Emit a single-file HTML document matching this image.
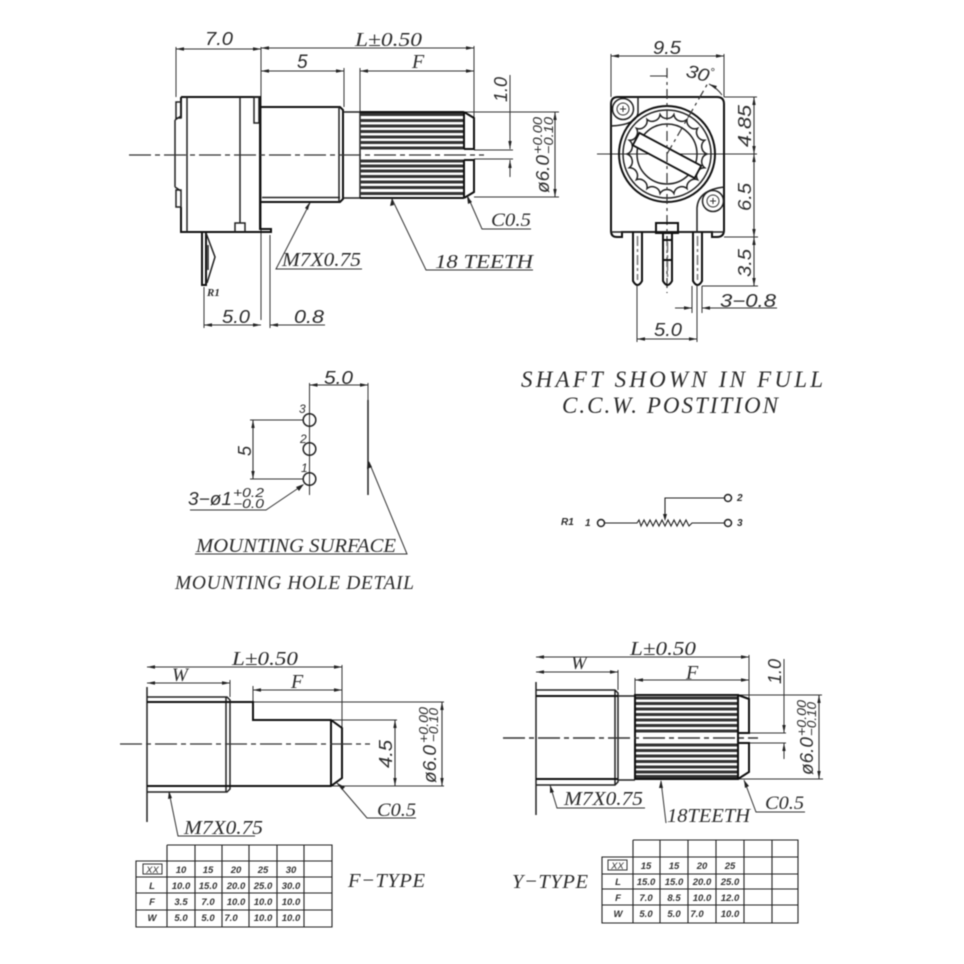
<!DOCTYPE html>
<html><head><meta charset="utf-8"><style>
html,body{margin:0;padding:0;background:#fff}
svg{display:block;filter:blur(.5px)}
.t{stroke:#333;stroke-width:1;fill:none}
.m{stroke:#222;stroke-width:1.5;fill:none}
.k{stroke:#111;stroke-width:2;fill:none}
.d{stroke:#333;stroke-width:1.2;fill:none;stroke-dasharray:22 4 5 4}
.da{stroke:#333;stroke-width:1.100;fill:none;marker-start:url(#a);marker-end:url(#a)}
.s{font-family:"Liberation Sans",sans-serif;font-style:italic;fill:#2c2c2c}
.r{font-family:"Liberation Serif",serif;font-style:italic;fill:#2c2c2c}
.b{font-family:"Liberation Sans",sans-serif;font-style:italic;font-weight:bold;fill:#333;font-size:9.500px;text-anchor:middle}
</style></head><body>
<svg width="964" height="964" viewBox="0 0 964 964" xmlns="http://www.w3.org/2000/svg">
<defs>
<marker id="a" markerUnits="userSpaceOnUse" markerWidth="10" markerHeight="6" refX="8" refY="3" orient="auto-start-reverse"><path d="M0 1.300L8 3L0 4.700z" fill="#222"/></marker>
</defs>
<rect width="964" height="964" fill="#fff"/>

<!-- TOP LEFT SIDE VIEW -->
<path class="t" d="M176 47V97M261 47V320M344 68V107M360 68V112M474 46V118M270 235V328M204 287V328M463 112H559M474 197H559M474 150H513M474 159H513"/>
<line class="da" x1="176" y1="49" x2="261" y2="49"/>
<line class="da" x1="261" y1="48" x2="474" y2="48"/>
<line class="da" x1="261" y1="71" x2="344" y2="71"/>
<line class="da" x1="360" y1="71" x2="474" y2="71"/>
<line class="da" x1="555" y1="112" x2="555" y2="197"/>
<path class="t" d="M510 75V149" marker-end="url(#a)"/>
<path class="t" d="M510 177V160" marker-end="url(#a)"/>
<line class="da" x1="204" y1="325" x2="261" y2="325"/>
<path class="t" d="M325 325H270" marker-end="url(#a)"/>
<path class="k" d="M181 97H260V229H271V232H181V207M181 97V118M260 107H340L343 110V199L340 202H260"/>
<path class="m" d="M175 120V187M175 120L181 116M175 187L181 191M176 102H181V118H176ZM176 190H181V207H176ZM254 97H259V123H254ZM187 97V232M240 97V223M235 232V223H245V232"/>
<path class="m" d="M262 197.500H340M339 107V202M343 112H360V198H343M360 112V198"/>
<path stroke="#333" stroke-width="3" fill="none" d="M360 114.500H464M360 120.500H464M360 126H464M360 131.500H464M360 137H464M360 142.500H464M360 148H464M360 161H464M360 166H464M360 171H464M360 176.500H464M360 182H464M360 187.500H464M360 193.500H464"/>
<path class="k" d="M360 112H464M360 198H464M464 112V149M464 160V198M464 112L474 118V149H464M464 198L474 192V160H464"/>
<path class="d" d="M129 155H484"/>
<path class="k" d="M202 233V285H206V233"/>
<path class="m" d="M206 233L215 257L207 283M208 245V270"/>
<path class="t" d="M310 203L276 269H362M392 199L426 270H533M468 197L482 229H531"/>
<path fill="#222" d="M310 202L305 208L308 210zM392 198L390 206L394 205zM467 196L468 204L472 202z"/>
<text class="s" x="205" y="45" font-size="18.500" textLength="28" lengthAdjust="spacingAndGlyphs">7.0</text>
<text class="r" x="355" y="46" font-size="20" textLength="67" lengthAdjust="spacingAndGlyphs">L±0.50</text>
<text class="s" x="297" y="68" font-size="19">5</text>
<text class="r" x="412" y="68" font-size="20">F</text>
<text class="s" font-size="18.500" transform="translate(507 102) rotate(-90)" textLength="25" lengthAdjust="spacingAndGlyphs">1.0</text>
<text class="s" font-size="18.500" transform="translate(549 193) rotate(-90)" textLength="38" lengthAdjust="spacingAndGlyphs">ø6.0</text>
<text class="s" font-size="13" transform="translate(542 154) rotate(-90)" textLength="37" lengthAdjust="spacingAndGlyphs">+0.00</text>
<text class="s" font-size="13" transform="translate(553 154) rotate(-90)" textLength="37" lengthAdjust="spacingAndGlyphs">−0.10</text>
<text class="r" x="491" y="226" font-size="19" textLength="40" lengthAdjust="spacingAndGlyphs">C0.5</text>
<text class="r" x="282" y="266" font-size="19.500" textLength="79" lengthAdjust="spacingAndGlyphs">M7X0.75</text>
<text class="r" x="435" y="268" font-size="19.500" textLength="98" lengthAdjust="spacingAndGlyphs">18 TEETH</text>
<text class="r" x="207" y="296" font-size="11" font-weight="bold">R1</text>
<text class="s" x="222" y="323" font-size="18" textLength="28" lengthAdjust="spacingAndGlyphs">5.0</text>
<text class="s" x="294" y="323" font-size="18" textLength="30" lengthAdjust="spacingAndGlyphs">0.8</text>

<!-- TOP RIGHT FRONT VIEW -->
<path class="t" d="M611 54V97M724 54V97M724 97H757M724 237H758M702 286H758M597 154H757M637 286V342M697 286V342M692 286V313M702 286V313M650 76H667"/>
<line class="da" x1="611" y1="56" x2="724" y2="56"/>
<line class="da" x1="754" y1="97" x2="754" y2="154"/>
<line class="da" x1="754" y1="154" x2="754" y2="237"/>
<line class="da" x1="754" y1="237" x2="754" y2="286"/>
<line class="da" x1="637" y1="339" x2="697" y2="339"/>
<path class="t" d="M675 308H692" marker-end="url(#a)"/>
<path class="t" d="M777 308H702" marker-end="url(#a)"/>
<path class="k" d="M618 97H717Q724 97 724 104V230Q724 237 717 237H712V232H622V237H617Q611 237 611 231V104Q611 97 618 97Z"/>
<path class="m" d="M611 232H724M638 97V113Q636 125 611 126M697 232V208Q698 190 724 187"/>
<circle cx="623" cy="109" r="10.500" class="m"/><circle cx="623" cy="109" r="6" class="t"/><path class="t" d="M620 109H626M623 106V112"/>
<circle cx="713" cy="201" r="10.500" class="m"/><circle cx="713" cy="201" r="6" class="t"/><path class="t" d="M710 201H716M713 198V204"/>
<circle cx="667" cy="154" r="48" class="k" fill="#fff"/>
<circle cx="667" cy="154" r="44" class="m"/>
<path class="m" d="M707 154A8 8 0 0 0 704.600 167.700A8 8 0 0 0 697.600 179.700A8 8 0 0 0 687 188.600A8 8 0 0 0 673.900 193.400A8 8 0 0 0 660.100 193.400A8 8 0 0 0 647 188.600A8 8 0 0 0 636.400 179.700A8 8 0 0 0 629.400 167.700A8 8 0 0 0 627 154A8 8 0 0 0 629.400 140.300A8 8 0 0 0 636.400 128.300A8 8 0 0 0 647 119.400A8 8 0 0 0 660.100 114.600A8 8 0 0 0 673.900 114.600A8 8 0 0 0 687 119.400A8 8 0 0 0 697.600 128.300A8 8 0 0 0 704.600 140.300A8 8 0 0 0 707 154Z"/>
<circle cx="667" cy="154" r="30" class="m"/>
<rect x="-35" y="-7" width="70" height="14" transform="translate(667 155.500) rotate(28)" fill="#fff" stroke="#111" stroke-width="1.800"/>
<path class="d" style="stroke-dasharray:10 4 3 4" d="M667 68V293M667 154L708 83"/>
<path class="t" d="M709 84Q717 88 722 95" marker-start="url(#a)"/>
<path class="k" d="M633 232V281Q637.500 289 642 281V232M663 234V281Q667.500 289 672 281V234M693 232V281Q697.500 289 702 281V232M663 240H672M663 260H672"/>
<path fill="#fff" class="k" d="M656 223H678V233H656Z"/>
<path stroke="#777" stroke-width="1.500" fill="none" stroke-dasharray="10 3 3 3" d="M637.500 236V280M667.500 242V280M697.500 236V280"/>
<text class="s" x="653" y="54" font-size="18.500" textLength="28" lengthAdjust="spacingAndGlyphs">9.5</text>
<text class="s" x="686" y="80" font-size="18" transform="rotate(15 700 75)" textLength="23" lengthAdjust="spacingAndGlyphs">30</text>
<text class="s" x="710" y="76" font-size="12">°</text>
<text class="s" font-size="18.500" transform="translate(751 147) rotate(-90)" textLength="42" lengthAdjust="spacingAndGlyphs">4.85</text>
<text class="s" font-size="18.500" transform="translate(751 211) rotate(-90)" textLength="28" lengthAdjust="spacingAndGlyphs">6.5</text>
<text class="s" font-size="18.500" transform="translate(751 277) rotate(-90)" textLength="28" lengthAdjust="spacingAndGlyphs">3.5</text>
<text class="s" x="720" y="307" font-size="18" textLength="56" lengthAdjust="spacingAndGlyphs">3−0.8</text>
<text class="s" x="654" y="336" font-size="18" textLength="28" lengthAdjust="spacingAndGlyphs">5.0</text>

<!-- MOUNTING HOLE DETAIL -->
<path class="t" d="M309.500 383V495M368 383V400M250 420H303M250 479H303"/>
<line class="da" x1="309.500" y1="385" x2="368" y2="385"/>
<line class="da" x1="253" y1="420" x2="253" y2="479"/>
<path class="m" d="M368 400V495"/>
<circle cx="309.500" cy="420" r="6.300" class="m" fill="#fff"/>
<circle cx="309.500" cy="449" r="6.300" class="m" fill="#fff"/>
<circle cx="309.500" cy="479" r="6.300" class="m" fill="#fff"/>
<path class="t" d="M190 510H266L303 485M195 554H407L369 462"/>
<path fill="#222" d="M304 484L296 487L299 491zM368 460L367 469L372 467z"/>
<text class="s" x="324" y="384" font-size="18" textLength="29" lengthAdjust="spacingAndGlyphs">5.0</text>
<text class="s" font-size="18" transform="translate(251 456) rotate(-90)">5</text>
<text class="s" x="299" y="413" font-size="12">3</text>
<text class="s" x="300" y="443" font-size="12">2</text>
<text class="s" x="301" y="472" font-size="12">1</text>
<text class="s" x="188" y="505" font-size="18" textLength="44" lengthAdjust="spacingAndGlyphs">3−ø1</text>
<text class="s" x="233" y="497" font-size="12.500" textLength="31" lengthAdjust="spacingAndGlyphs">+0.2</text>
<text class="s" x="233" y="508" font-size="12.500" textLength="31" lengthAdjust="spacingAndGlyphs">−0.0</text>
<text class="r" x="196" y="552" font-size="19.500" textLength="200" lengthAdjust="spacingAndGlyphs">MOUNTING SURFACE</text>
<text class="r" x="175" y="589" font-size="19.500" textLength="239" lengthAdjust="spacing">MOUNTING HOLE DETAIL</text>

<!-- CAPTION -->
<text class="r" x="521" y="387" font-size="23" textLength="302" lengthAdjust="spacing">SHAFT SHOWN IN FULL</text>
<text class="r" x="562" y="413" font-size="23" textLength="216" lengthAdjust="spacing">C.C.W. POSTITION</text>

<!-- SCHEMATIC -->
<circle cx="601" cy="523" r="3.500" class="m"/><circle cx="728" cy="523" r="3.500" class="m"/><circle cx="728" cy="498" r="3.500" class="m"/>
<path class="m" style="stroke-width:1.100" d="M605 523H637L639 520L641 526L644 520L647 526L650 520L653 526L656 520L659 526L662 520L665 526L668 520L671 526L674 520L677 526L680 520L683 526L686 520L689 526L692 523H724M724 498H665V519"/>
<path fill="#222" d="M663 514H667L665 521z"/>
<text class="s" x="561" y="525" font-size="10" font-weight="bold">R1</text>
<text class="s" x="585" y="526" font-size="10" font-weight="bold">1</text>
<text class="s" x="737" y="501" font-size="10" font-weight="bold">2</text>
<text class="s" x="737" y="526" font-size="10" font-weight="bold">3</text>

<!-- F TYPE -->
<path class="t" d="M342 665V728M230 680V697M253 686V702M253 702H444M331 720H397M331 786H444"/>
<line class="da" x1="147" y1="667" x2="342" y2="667"/>
<line class="da" x1="147" y1="683" x2="230" y2="683"/>
<line class="da" x1="253" y1="690" x2="342" y2="690"/>
<line class="da" x1="395" y1="720" x2="395" y2="786"/>
<line class="da" x1="442" y1="702" x2="442" y2="786"/>
<path class="m" d="M147 687V822M147 697H227L230 700V789L227 792H147M226 697V792"/>
<path class="k" d="M147 702H253V720H331L342 728V778L331 786H147M331 720V786"/>
<path class="d" d="M120 744H370"/>
<path class="t" d="M169 792L178 836H255M337 783L367 818H416"/>
<path fill="#222" d="M169 791L168 799L172 798zM337 783L342 790L345 787z"/>
<text class="r" x="232" y="665" font-size="20" textLength="66" lengthAdjust="spacingAndGlyphs">L±0.50</text>
<text class="r" x="172" y="681" font-size="19">W</text>
<text class="r" x="291" y="688" font-size="20">F</text>
<text class="s" font-size="18.500" transform="translate(392 768) rotate(-90)" textLength="28" lengthAdjust="spacingAndGlyphs">4.5</text>
<text class="s" font-size="18.500" transform="translate(436 783) rotate(-90)" textLength="38" lengthAdjust="spacingAndGlyphs">ø6.0</text>
<text class="s" font-size="13" transform="translate(428 743) rotate(-90)" textLength="36" lengthAdjust="spacingAndGlyphs">+0.00</text>
<text class="s" font-size="13" transform="translate(438 742) rotate(-90)" textLength="34" lengthAdjust="spacingAndGlyphs">−0.10</text>
<text class="r" x="377" y="816" font-size="19" textLength="39" lengthAdjust="spacingAndGlyphs">C0.5</text>
<text class="r" x="184" y="834" font-size="19.500" textLength="79" lengthAdjust="spacingAndGlyphs">M7X0.75</text>
<path class="m" style="stroke-width:1.100" d="M167 845H332V927H136V861H332M136 877H332M136 893H332M136 910H332M167 845V927M195 845V927M222 845V927M249 845V927M277 845V927M304 845V927"/>
<rect x="143" y="864" width="19" height="10" fill="none" stroke="#333"/>
<g class="b">
<text x="152.500" y="873" font-weight="normal">XX</text><text x="181" y="873">10</text><text x="208" y="873">15</text><text x="236" y="873">20</text><text x="263" y="873">25</text><text x="291" y="873">30</text>
<text x="152" y="889">L</text><text x="181" y="889">10.0</text><text x="208" y="889">15.0</text><text x="236" y="889">20.0</text><text x="263" y="889">25.0</text><text x="291" y="889">30.0</text>
<text x="152" y="905">F</text><text x="181" y="905">3.5</text><text x="208" y="905">7.0</text><text x="236" y="905">10.0</text><text x="263" y="905">10.0</text><text x="291" y="905">10.0</text>
<text x="152" y="921">W</text><text x="181" y="921">5.0</text><text x="208" y="921">5.0</text><text x="231" y="921">7.0</text><text x="263" y="921">10.0</text><text x="291" y="921">10.0</text>
</g>
<text class="r" x="348" y="887" font-size="20.500" textLength="77" lengthAdjust="spacing">F−TYPE</text>

<!-- Y TYPE -->
<path class="t" d="M749 655V698M618 670V690M635 678V695M738 695H822M738 779H823M749 733H786M749 743H786"/>
<line class="da" x1="536" y1="657" x2="749" y2="657"/>
<line class="da" x1="536" y1="672" x2="618" y2="672"/>
<line class="da" x1="635" y1="680" x2="749" y2="680"/>
<line class="da" x1="819" y1="695" x2="819" y2="779"/>
<path class="t" d="M784 659V733" marker-end="url(#a)"/>
<path class="t" d="M784 759V743" marker-end="url(#a)"/>
<path class="m" d="M536 682V815M536 690H615L618 693V782L615 785H536M615 690V785"/>
<path class="k" d="M536 696H618M536 779H618"/>
<path class="m" d="M618 696H635M618 780H635"/>
<path stroke="#333" stroke-width="3" fill="none" d="M635 698H738M635 703.500H738M635 709H738M635 714.500H738M635 720H738M635 725.500H738M635 731H738M635 745H738M635 750.500H738M635 756H738M635 761.500H738M635 767H738M635 772H738M635 776.500H738"/>
<path class="k" d="M635 695H738V779H635ZM738 695L749 699V733H738M738 779L749 772V743H738"/>
<rect x="636" y="733" width="101" height="10" fill="#fff"/>
<path class="k" d="M738 733V695M738 743V779M635 695V779"/>
<path class="d" style="stroke-width:1.600" d="M503 738H758"/>
<path class="t" d="M550 785L557 808H645M661 781L666 823M744 780L756 812H805"/>
<path fill="#222" d="M550 785L550 793L554 792zM661 780L659 788L663 788zM744 780L745 788L749 786z"/>
<text class="r" x="630" y="655" font-size="20" textLength="66" lengthAdjust="spacingAndGlyphs">L±0.50</text>
<text class="r" x="571" y="669" font-size="19">W</text>
<text class="r" x="686" y="679" font-size="20">F</text>
<text class="s" font-size="18.500" transform="translate(781 684) rotate(-90)" textLength="25" lengthAdjust="spacingAndGlyphs">1.0</text>
<text class="s" font-size="18.500" transform="translate(813 775) rotate(-90)" textLength="38" lengthAdjust="spacingAndGlyphs">ø6.0</text>
<text class="s" font-size="13" transform="translate(806 736) rotate(-90)" textLength="36" lengthAdjust="spacingAndGlyphs">+0.00</text>
<text class="s" font-size="13" transform="translate(816 736) rotate(-90)" textLength="34" lengthAdjust="spacingAndGlyphs">−0.10</text>
<text class="r" x="564" y="805" font-size="19.500" textLength="79" lengthAdjust="spacingAndGlyphs">M7X0.75</text>
<text class="r" x="667" y="822" font-size="19.500" textLength="83" lengthAdjust="spacingAndGlyphs">18TEETH</text>
<text class="r" x="765" y="809" font-size="19" textLength="39" lengthAdjust="spacingAndGlyphs">C0.5</text>
<path class="m" style="stroke-width:1.100" d="M633 840H798V923H602V857H798M602 874H798M602 889H798M602 905H798M633 840V923M660 840V923M688 840V923M716 840V923M744 840V923M772 840V923"/>
<rect x="608" y="860" width="19" height="10" fill="none" stroke="#333"/>
<g class="b">
<text x="617.500" y="869" font-weight="normal">XX</text><text x="646" y="869">15</text><text x="674" y="869">15</text><text x="702" y="869">20</text><text x="730" y="869">25</text>
<text x="618" y="885">L</text><text x="646" y="885">15.0</text><text x="674" y="885">15.0</text><text x="702" y="885">20.0</text><text x="730" y="885">25.0</text>
<text x="618" y="901">F</text><text x="646" y="901">7.0</text><text x="674" y="901">8.5</text><text x="702" y="901">10.0</text><text x="730" y="901">12.0</text>
<text x="618" y="917">W</text><text x="646" y="917">5.0</text><text x="674" y="917">5.0</text><text x="697" y="917">7.0</text><text x="730" y="917">10.0</text>
</g>
<text class="r" x="512" y="888" font-size="20.500" textLength="76" lengthAdjust="spacing">Y−TYPE</text>
</svg>
</body></html>
